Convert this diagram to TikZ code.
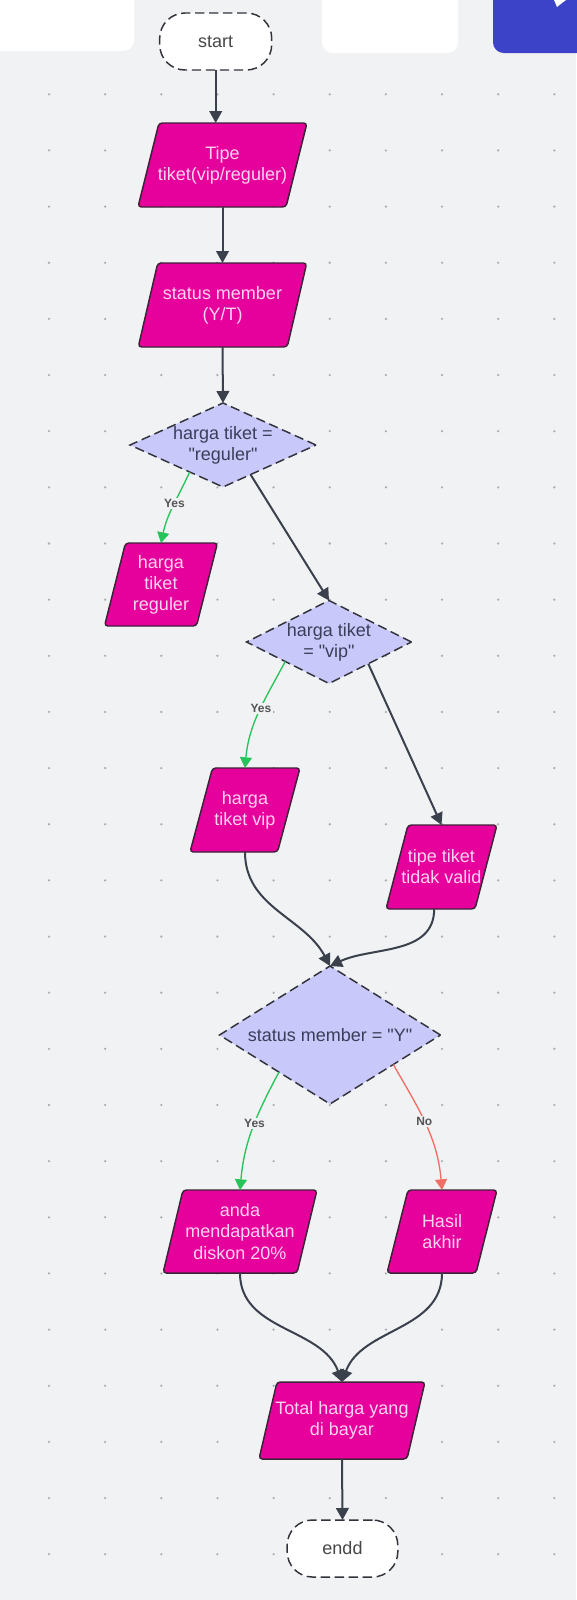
\documentclass[tikz,border=0pt]{standalone}
\usepackage{fontspec}
\setmainfont{Liberation Sans}[Ligatures=TeXOff]
\usetikzlibrary{arrows.meta,shapes.geometric}
\definecolor{bg}{RGB}{241,242,244}
\definecolor{pfill}{RGB}{230,0,156}
\definecolor{ptxt}{RGB}{255,212,240}
\definecolor{pline}{RGB}{60,35,55}
\definecolor{dfill}{RGB}{200,201,250}
\definecolor{dtxt}{RGB}{58,62,88}
\definecolor{dline}{RGB}{50,50,60}
\definecolor{conncol}{RGB}{58,64,76}
\definecolor{gcol}{RGB}{38,196,90}
\definecolor{rcol}{RGB}{240,110,100}
\definecolor{lblcol}{RGB}{85,85,85}
\definecolor{dotc}{RGB}{172,174,178}
\definecolor{bluebox}{RGB}{61,67,200}
\definecolor{termtxt}{RGB}{70,70,70}

% #1 name, #2 cx, #3 cy, #4 edge width, #5 height, #6 slant, #7 text
\newcommand\pgram[7]{%
  \draw[pshape] ({#2-#4/2+#6/2},{#3-#5/2}) -- ({#2+#4/2+#6/2},{#3-#5/2})
     -- ({#2+#4/2-#6/2},{#3+#5/2}) -- ({#2-#4/2-#6/2},{#3+#5/2}) -- cycle;
  \node[ptext, minimum width={#4*0.75pt}, minimum height={#5*0.75pt}] (#1) at (#2,#3) {#7};
}

\begin{document}
\begin{tikzpicture}[x=0.75pt,y=-0.75pt,
  every node/.style={font=\fontsize{13.5}{15.8}\selectfont},
  pshape/.style={fill=pfill, draw=pline, line width=1.1pt, rounded corners=2.5pt},
  ptext/.style={rectangle, inner sep=0pt, outer sep=0pt, text=ptxt, align=center},
  dia/.style={diamond, draw=dline, dash pattern=on 7pt off 3.5pt, line width=1.1pt, fill=dfill, inner sep=0pt, outer sep=0pt},
  dtext/.style={text=dtxt, align=center, inner sep=0pt},
  term/.style={rectangle, rounded corners=19pt, draw=dline, dash pattern=on 7pt off 3.5pt, line width=1.1pt, fill=white, text=termtxt, outer sep=0pt, minimum width=84pt},
  connarr/.style={draw=conncol, line width=1.5pt, -{Triangle[length=9pt,width=9.5pt]}},
  yesarr/.style={draw=gcol, line width=1pt, -{Triangle[length=8pt,width=9pt]}},
  noarr/.style={draw=rcol, line width=1pt, -{Triangle[length=8pt,width=9pt]}},
  elabel/.style={font=\bfseries\fontsize{9}{10}\selectfont, text=lblcol, fill=bg, inner sep=1pt}
]
\useasboundingbox (0,0) rectangle (576,1600);
\fill[bg] (0,0) rectangle (576,1600);

% dot grid
\foreach \i in {0,...,9} {
  \foreach \j in {0,...,26} {
    \fill[dotc] ({49+56.15*\i},{94.3+56.15*\j}) circle (0.95pt);
  }
}

% top bar elements
\fill[white, rounded corners=8pt] (-20,-20) rectangle (134,51);
\fill[white, rounded corners=8pt] (322,-20) rectangle (458,53);
\fill[bluebox, rounded corners=8pt] (493,-20) rectangle (600,53);
\fill[white] (554,0) -- (566,0) -- (562,3) -- (557,7) -- cycle;

% terminals
\node[term, minimum height=42.75pt] (start) at (215.7,41.5) {start};
\node[term, minimum height=42.75pt, minimum width=83pt] (endd) at (342.5,1548.5) {endd};

% parallelograms
\pgram{tipe}{222.5}{165}{148}{84}{21}{Tipe\\tiket(vip/reguler)}
\pgram{status}{222.5}{305}{149}{84}{19.5}{status member\\(Y/T)}
\pgram{reg}{161}{584.5}{92}{83}{21}{harga\\tiket\\reguler}
\pgram{vip}{245}{810}{87.5}{84}{22.5}{harga\\tiket vip}
\pgram{tidak}{441.5}{867}{89}{84}{22}{tipe tiket\\tidak valid}
\pgram{anda}{240}{1231.5}{134}{83}{20}{anda\\mendapatkan\\diskon 20\%}
\pgram{hasil}{442}{1231.5}{89}{83}{21}{Hasil\\akhir}
\pgram{total}{342}{1420.5}{148}{77}{18}{Total harga yang\\di bayar}

% decisions
\node[dia, minimum width={186*0.75pt}, minimum height={84*0.75pt}] (d1) at (223,445) {};
\node[dtext] (d1t) at (d1) {harga tiket =\\"reguler"};
\node[dia, minimum width={165*0.75pt}, minimum height={83*0.75pt}] (d2) at (329,642) {};
\node[dtext] (d2t) at (d2) {harga tiket\\= "vip"};
\node[dia, minimum width={221*0.75pt}, minimum height={138*0.75pt}] (d3) at (330,1035) {};
\node[dtext] (d3t) at (d3) {status member = "Y"};

% connectors
\draw[connarr] (start.south) -- (start.south |- tipe.north);
\draw[connarr] (tipe.south) -- (status.north);
\draw[connarr] (status.south) -- (d1.north);
\draw[yesarr] (d1.219) to[out=-115,in=78] node[elabel, pos=0.45] {Yes} (reg.north);
\draw[connarr] (d1.-47) -- (d2.north);
\draw[yesarr] (d2.204) to[out=-118,in=85] node[elabel, pos=0.45] {Yes} (vip.north);
\draw[connarr] (d2.-29) -- (tidak.north);
\draw[connarr] (vip.south) to[out=-90,in=118] (d3.north);
\draw[connarr] ([xshift=-5.5pt]tidak.south) to[out=-90,in=25] (d3.north);
\draw[yesarr] (d3.216) to[out=-118,in=85] node[elabel, pos=0.45] {Yes} (anda.north);
\draw[noarr] (d3.-25) to[out=-60,in=95] node[elabel, pos=0.47] {No} (hasil.north);
\draw[connarr] (anda.south) to[out=-90,in=110] (total.north);
\draw[connarr] (hasil.south) to[out=-90,in=70] (total.north);
\draw[connarr] (total.south) -- (endd.north);
\end{tikzpicture}
\end{document}
